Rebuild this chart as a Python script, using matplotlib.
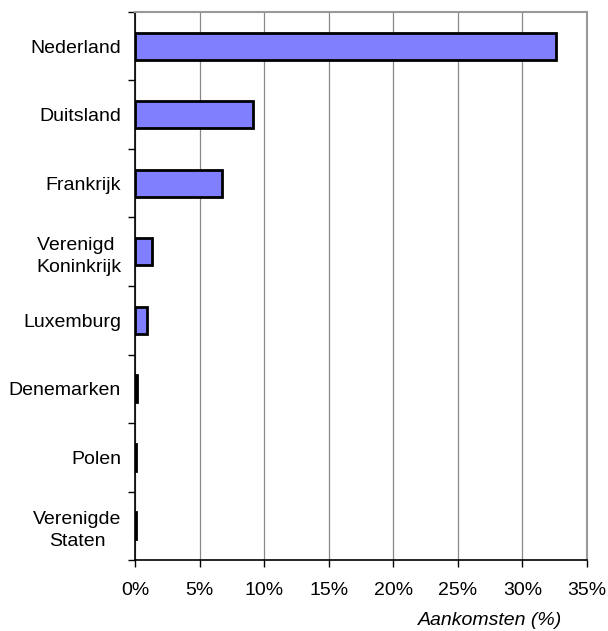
import matplotlib.pyplot as plt
import numpy as np

plt.rcParams['font.family'] = ['Liberation Sans', 'DejaVu Sans']

countries = ["Nederland", "Duitsland", "Frankrijk", "Verenigd \nKoninkrijk",
             "Luxemburg", "Denemarken", "Polen", "Verenigde\nStaten"]
values = [32.6, 9.1, 6.7, 1.3, 0.9, 0.15, 0.1, 0.1]
xticks = [0, 5, 10, 15, 20, 25, 30, 35]

fig = plt.figure(figsize=(6.08, 6.31), dpi=100)
ax = fig.add_axes([0.222, 0.1125, 0.7435, 0.8685])

y = np.arange(len(countries))
ax.barh(y, values, height=0.4, color="#8080FF", edgecolor="black", linewidth=2, zorder=3)

ax.set_ylim(len(countries) - 0.5, -0.5)
ax.set_xlim(0, 35)
ax.set_yticks(y)
ax.set_yticklabels(countries, fontsize=14, ha="right", multialignment="center",
                   linespacing=1.4)
ax.tick_params(axis="y", which="major", length=0, pad=10)
ax.set_yticks(np.arange(-0.5, len(countries) + 0.5, 1), minor=True)
ax.tick_params(axis="y", which="minor", length=5, width=1, direction="out")

ax.set_xticks(xticks)
ax.set_xticklabels([f"{v}%" for v in xticks], fontsize=14)
ax.tick_params(axis="x", length=5, width=1, direction="out", pad=11)
ax.xaxis.grid(True, color="#888888", lw=0.9, zorder=0)

for s in ["top", "right"]:
    ax.spines[s].set_color("#999999")
    ax.spines[s].set_linewidth(1.5)
for s in ["left", "bottom"]:
    ax.spines[s].set_color("black")
    ax.spines[s].set_linewidth(1.2)

ax.set_xlabel("Aankomsten (%)", fontsize=14, style="italic")
ax.xaxis.set_label_coords(0.785, -0.095)

fig.savefig("out.png", dpi=100, facecolor="white")
